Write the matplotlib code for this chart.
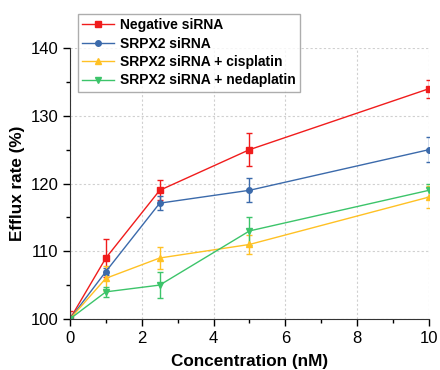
import numpy as np
import matplotlib
matplotlib.use("Agg")
import matplotlib.pyplot as plt
from matplotlib.lines import Line2D
from matplotlib.ticker import MultipleLocator

# data
conc = [0, 1, 2.5, 5, 10]
labels = ["Negative siRNA", "SRPX2 siRNA", "SRPX2 siRNA + cisplatin", "SRPX2 siRNA + nedaplatin"]
neg = [100, 109, 119, 125, 134]
neg_err = [1.2, 2.8, 1.5, 2.4, 1.3]
srpx2 = [100, 107, 117.1, 119, 125]
srpx2_err = [0.4, 0.5, 1.0, 1.8, 1.8]
cis = [100, 106, 109, 111, 118]
cis_err = [0.3, 1.8, 1.6, 1.4, 1.6]
neda = [100, 104, 105, 113, 119]
neda_err = [0.6, 0.7, 1.9, 2.1, 1.0]

colors = ["#f01c1c", "#3b6aab", "#ffc124", "#3cc46a"]
markers = ["s", "o", "^", "v"]

plt.rcParams["font.family"] = ["Liberation Sans", "DejaVu Sans"]

fig = plt.figure(figsize=(4.4, 3.7), dpi=100)
ax = fig.add_axes([0.159, 0.138, 0.816, 0.732])

series = [(neg, neg_err), (srpx2, srpx2_err), (cis, cis_err), (neda, neda_err)]
handles = []
for (y, e), c, m, lab in zip(series, colors, markers, labels):
    ax.errorbar(conc, y, yerr=e, color=c, marker=m, markersize=4,
                linewidth=1, elinewidth=1, capsize=2.5, capthick=1)
    handles.append(Line2D([], [], color=c, marker=m, markersize=4, linewidth=1))

ax.set_xlim(0, 10)
ax.set_ylim(100, 140)
ax.xaxis.set_major_locator(MultipleLocator(2))
ax.xaxis.set_minor_locator(MultipleLocator(1))
ax.yaxis.set_major_locator(MultipleLocator(10))
ax.yaxis.set_minor_locator(MultipleLocator(5))
ax.tick_params(which="major", direction="out", length=5, width=1, labelsize=12)
ax.tick_params(which="minor", direction="out", length=3, width=1)
ax.grid(True, which="major", linestyle=(0, (2, 2)), color="#d0d0d0", linewidth=0.8)
ax.set_axisbelow(True)
for s in ["top", "right"]:
    ax.spines[s].set_visible(False)
for s in ["left", "bottom"]:
    ax.spines[s].set_color("#333333")

ax.set_xlabel("Concentration (nM)", fontsize=12.3, fontweight="bold", labelpad=6)
ax.set_ylabel("Efflux rate (%)", fontsize=12.3, fontweight="bold", labelpad=4)

leg = fig.legend(handles=handles, labels=labels, loc="upper left",
                 bbox_to_anchor=(78 / 440, 1 - 14 / 370), frameon=True,
                 fancybox=False, edgecolor="#999999",
                 prop={"weight": "bold", "size": 10}, handlelength=2.3,
                 labelspacing=0.32, borderpad=0.3, handletextpad=0.4,
                 borderaxespad=0)
leg.get_frame().set_linewidth(1)

fig.savefig("out.png", dpi=100)
